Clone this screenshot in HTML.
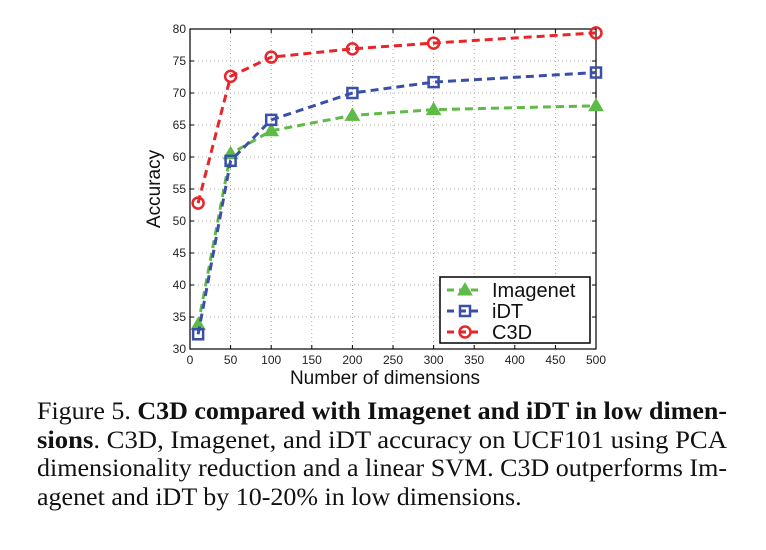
<!DOCTYPE html>
<html><head><meta charset="utf-8"><style>
body{margin:0;background:#fff;width:766px;height:550px;overflow:hidden;position:relative;font-family:"Liberation Sans",sans-serif}
.cap{position:absolute;left:37px;width:690px;font-family:"Liberation Serif",serif;font-size:25px;line-height:28.5px;top:398px;color:#111}
.cap div{white-space:nowrap;height:28.5px}
.cap div span.ln{display:inline-block;transform-origin:0 0}
</style></head><body>
<svg id="chart" width="766" height="395" style="position:absolute;left:0;top:0" xmlns="http://www.w3.org/2000/svg"></svg>
<div class="cap">
<div><span class="ln">Figure 5. <b>C3D compared with Imagenet and iDT in low dimen-</b></span></div>
<div><span class="ln"><b>sions</b>.  C3D, Imagenet, and iDT accuracy on UCF101 using PCA</span></div>
<div><span class="ln">dimensionality reduction and a linear SVM. C3D outperforms Im-</span></div>
<div><span class="ln last">agenet and iDT by 10-20% in low dimensions.</span></div>
</div>
<script>
const dims=[10,50,100,200,300,500];
const imagenet=[33.8,60.5,64.1,66.5,67.4,68.0];
const idt=[32.3,59.4,65.8,70.0,71.7,73.2];
const c3d=[52.8,72.6,75.6,76.9,77.8,79.4];
const xTicks=[0,50,100,150,200,250,300,350,400,450,500];
const yTicks=[30,35,40,45,50,55,60,65,70,75,80];
const NS="http://www.w3.org/2000/svg";
const svg=document.getElementById('chart');
const L=190,R=596,T=29,B=349;
const sx=v=>L+(v-0)/(500-0)*(R-L);
const sy=v=>B-(v-30)/(80-30)*(B-T);
function mk(tag,at,parent){const e=document.createElementNS(NS,tag);for(const k in at)e.setAttribute(k,at[k]);(parent||svg).appendChild(e);return e;}
mk('rect',{x:L,y:T,width:R-L,height:B-T,fill:'#fff'});
xTicks.forEach(t=>{const x=sx(t);
 const g=mk('line',{x1:x,y1:T,x2:x,y2:B,stroke:'#999','stroke-width':0.8,'stroke-dasharray':'1 3'});
 
 
 mk('line',{x1:x,y1:B,x2:x,y2:B-4,stroke:'#000'});mk('line',{x1:x,y1:T,x2:x,y2:T+4,stroke:'#000'});
 const tx=mk('text',{x:x,y:B+15,'text-anchor':'middle','font-size':12,fill:'#222'});tx.textContent=t;
 
 });
yTicks.forEach(t=>{const y=sy(t);
 const g=mk('line',{x1:L,y1:y,x2:R,y2:y,stroke:'#999','stroke-width':0.8,'stroke-dasharray':'1 3'});
 
 
 mk('line',{x1:L,y1:y,x2:L+4,y2:y,stroke:'#000'});mk('line',{x1:R,y1:y,x2:R-4,y2:y,stroke:'#000'});
 const tx=mk('text',{x:L-4,y:y+4,'text-anchor':'end','font-size':12,fill:'#222'});tx.textContent=t;
 
 });
const frame=mk('rect',{x:L,y:T,width:R-L,height:B-T,fill:'none',stroke:'#000','stroke-width':1.2});


const xl=mk('text',{x:(L+R)/2-8,y:384,'text-anchor':'middle','font-size':19,fill:'#111'});xl.textContent='Number of dimensions';


const yl=mk('text',{x:0,y:0,'text-anchor':'middle','font-size':19,fill:'#111',transform:`translate(160,${(T+B)/2}) rotate(-90)`});yl.textContent='Accuracy';


function marker(type,x,y,col,g){
 if(type==='tri')mk('polygon',{points:`${x},${y-7} ${x-7},${y+5} ${x+7},${y+5}`,fill:col,stroke:col},g);
 else if(type==='sq')mk('rect',{x:x-5,y:y-5,width:10,height:10,fill:'none',stroke:col,'stroke-width':2.5},g);
 else mk('circle',{cx:x,cy:y,r:5.5,fill:'none',stroke:col,'stroke-width':2.5},g);
}
const series=[['imagenet',imagenet,'#5dbb46','tri'],['idt',idt,'#3a4fa8','sq'],['c3d',c3d,'#e8262a','circ']];
series.forEach(([n,vals,col,m])=>{
 const g=mk('g',{});
 
 
 mk('polyline',{points:vals.map((v,i)=>sx(dims[i])+','+sy(v)).join(' '),fill:'none',stroke:col,'stroke-width':3,'stroke-dasharray':'8 5'},g);
 vals.forEach((v,i)=>marker(m,sx(dims[i]),sy(v),col,g));
});
const lg=mk('g',{});


mk('rect',{x:440,y:277,width:150,height:66,fill:'#fff',stroke:'#000','stroke-width':1.5},lg);
[['Imagenet','#5dbb46','tri'],['iDT','#3a4fa8','sq'],['C3D','#e8262a','circ']].forEach(([n,col,m],i)=>{
 const y=290+i*21;
 const e=mk('g',{},lg);
 
 
 mk('line',{x1:447,y1:y,x2:482,y2:y,stroke:col,'stroke-width':3,'stroke-dasharray':'7 5'},e);
 marker(m,465,y,col,e);
 const t=mk('text',{x:492,y:y+7,'font-size':20,fill:'#111'},e);t.textContent=n;
});
const lines=[...document.querySelectorAll('.cap .ln')];
let f0=1;
lines.forEach((s,i)=>{const w=s.getBoundingClientRect().width;
 let f=690/w; if(i===0)f0=f; if(s.classList.contains('last'))f=f0;
 s.style.transform='scaleX('+f+')';});
</script>
</body></html>
